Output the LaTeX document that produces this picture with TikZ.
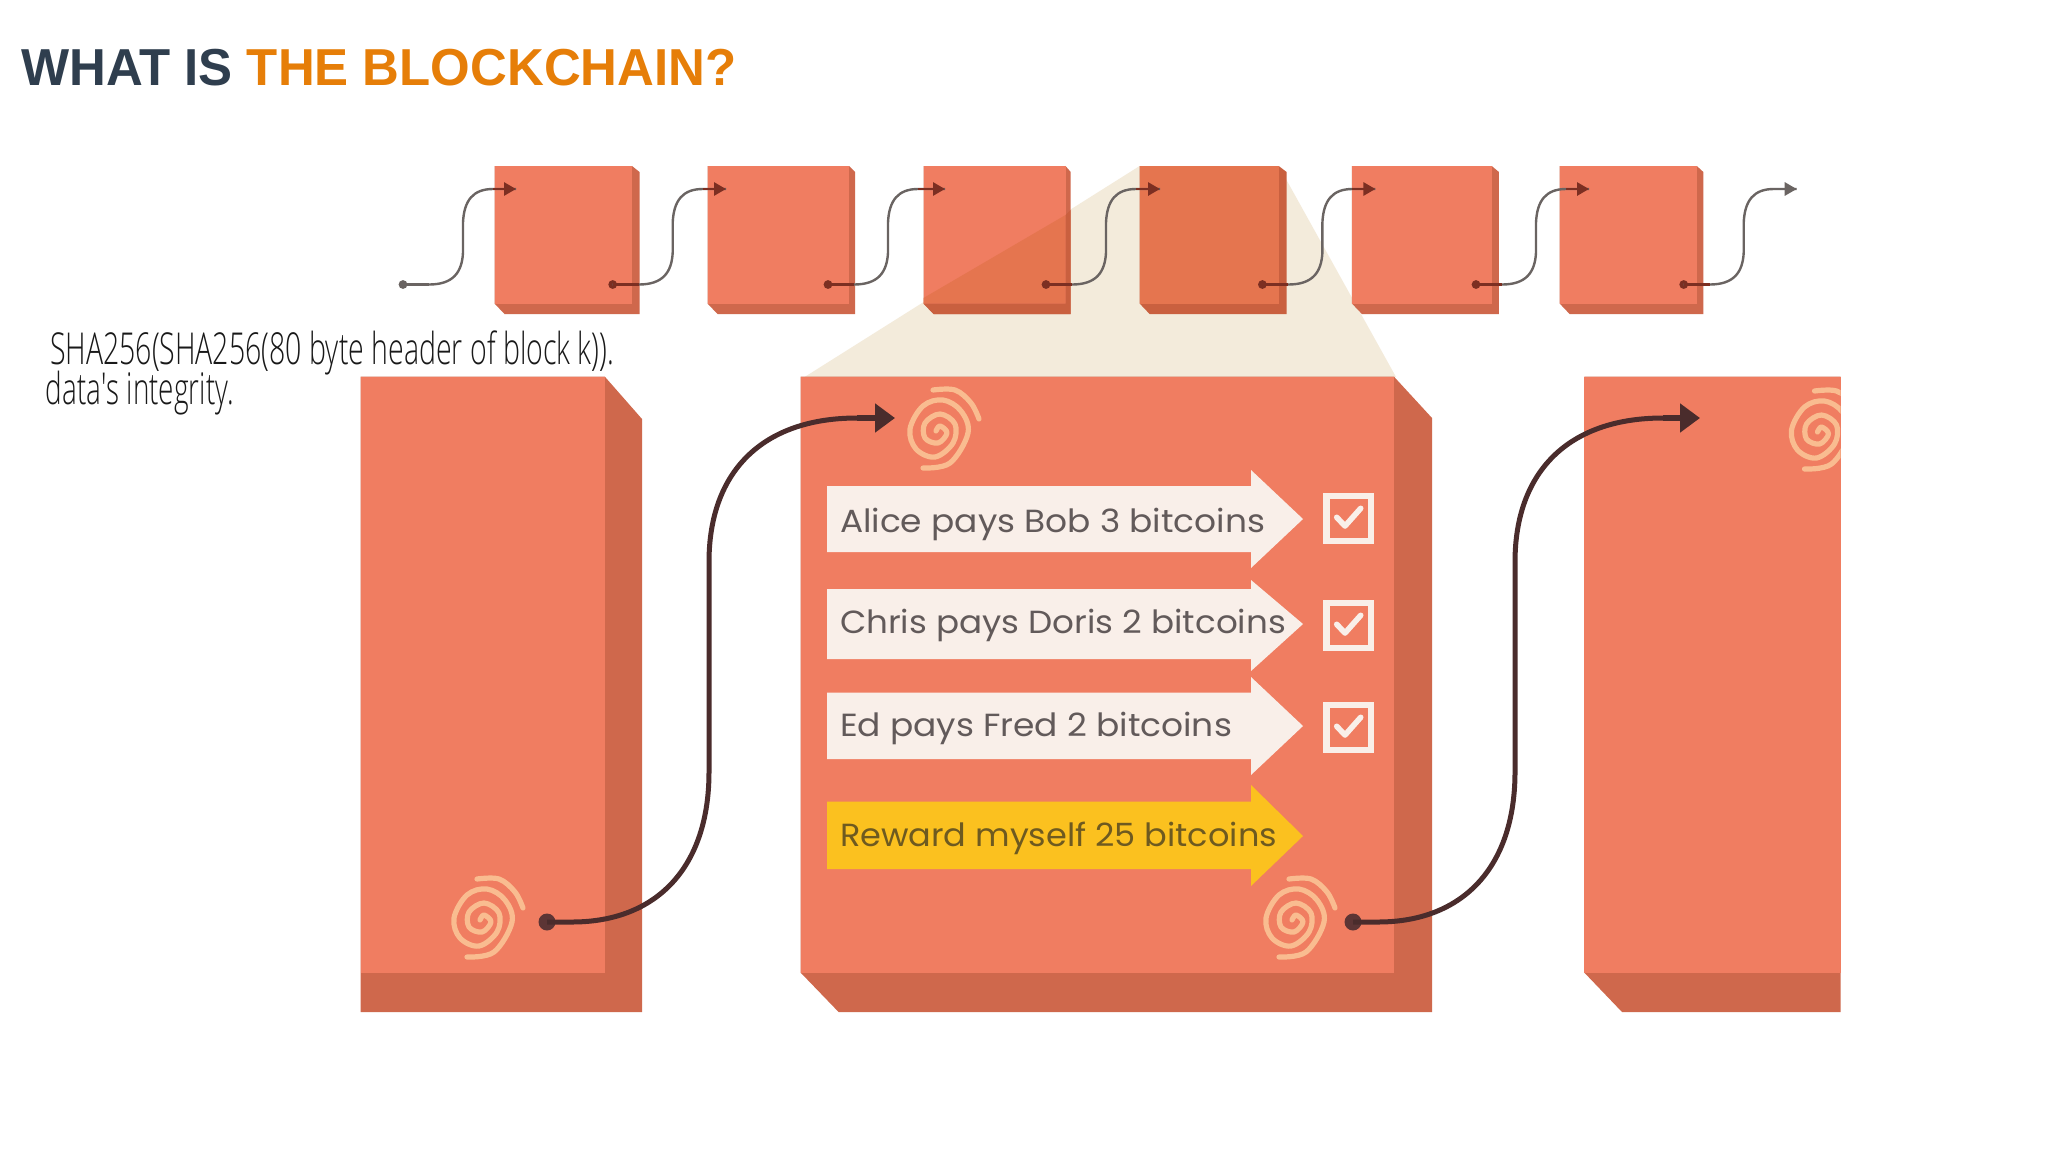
\documentclass[tikz,border=0pt]{standalone}
\usepackage{fontspec}
\usepackage{graphicx}
\usetikzlibrary{arrows.meta,calc}
\setmainfont{Liberation Sans}
\newfontfamily\pop{Poppins}
\newfontfamily\shafont{Open Sans Light}
\definecolor{front}{HTML}{F07D61}
\definecolor{sidec}{HTML}{CF684C}
\definecolor{frontd}{HTML}{E5754F}
\definecolor{sided}{HTML}{C9603F}
\definecolor{cream}{HTML}{F3EBDB}
\definecolor{paper}{HTML}{F9EFE9}
\definecolor{gold}{HTML}{FBC11F}
\definecolor{print}{HTML}{F9BC90}
\definecolor{inkdark}{HTML}{4A2C2C}
\definecolor{inkdot}{HTML}{5C3535}
\definecolor{linkgrey}{HTML}{6A6462}
\definecolor{linkred}{HTML}{7C2F22}
\definecolor{titledark}{HTML}{2F3E4E}
\definecolor{titleorange}{HTML}{E67E08}
\definecolor{txtgrey}{HTML}{625A5A}
\definecolor{txtolive}{HTML}{6E5A20}
\newdimen\pxu \pxu=.5pt
\newcommand{\fitx}[2]{\resizebox{#1\pxu}{\height}{#2}}
\tikzset{
  x=.5pt,y=-.5pt,
  txt/.style={anchor=base west,inner sep=0pt,outer sep=0pt},
  bigdot/.style={circle,fill=inkdot,inner sep=0pt,minimum size=8.5pt},
  smalldot/.style={circle,inner sep=0pt,minimum size=4.4pt},
  bigline/.style={draw=inkdark,line width=2.5pt},
  linkline/.style={draw=linkgrey,line width=1.2pt},
  printline/.style={draw=print,line width=2.6pt,line cap=round,line join=round},
}
\newcommand{\topblock}[5]{%
  \fill[#5] (#1,166) -- (#2,166) -- (#3,172) -- (#3,314) -- ({#1+10},314) -- (#1,303.5) -- cycle;
  \fill[#4] (#1,166) rectangle (#2,303.5);
}
\newcommand{\fingerprint}[1]{%
  \begin{scope}[shift={(#1)}]
    \draw[printline] plot[smooth,tension=.6] coordinates {(-16,37) (11,32) (29,2) (22,-20) (4,-31) (-16,-25) (-29,-2) (-23,18) (-4,26) (14,12) (16,-7) (1,-17) (-14,-8) (-14,7) (-1,12) (8,2) (1,-5) (-3,0)};
    \draw[printline] plot[smooth,tension=.6] coordinates {(-6,-41) (16,-41) (32,-28) (40,-12)};
  \end{scope}}
\newcommand{\checkmarkbox}[1]{%
  \begin{scope}[shift={(#1)}]
    \draw[paper,line width=3.2pt] (3.2,3.2) rectangle (47.8,47.8);
    \draw[paper,line width=2.8pt,line cap=round,line join=round] (13.4,24.3) -- (21.7,33) -- (37.4,15.3);
  \end{scope}}
\newcommand{\txarrow}[6]{%
  \fill[#1] (827,#2) -- (1251,#2) -- (1251,#4) -- (1303,#6) -- (1251,#5) -- (1251,#3) -- (827,#3) -- cycle;
}
\newcommand{\chainlink}[5]{%
  \node[smalldot,fill=#4] (s#1) at (#2,284.5) {};
  \coordinate (t#1) at (#3,189);
  \draw[linkline] (s#1.center) -- ($(s#1)+(26,0)$) .. controls ($(s#1)+(50,0)$) and ($(s#1)+(59,-12)$) .. ($(s#1)+(60,-32)$) -- ($(s#1)+(60,-62)$) .. controls ($(s#1)+(61,-84)$) and ($(s#1)+(70,-95.5)$) .. ($(s#1)+(90,-95.5)$) -- (t#1);
  \draw[draw=#4,line width=1.4pt] (s#1.center) -- ($(s#1)+(26,0)$);
  \draw[draw=#5,line width=1.4pt,-{Triangle[length=6pt,width=6.5pt]}] ($(s#1)+(90,-95.5)$) -- (t#1);
}
\newcommand{\biglink}[3]{%
  \node[bigdot] (d#1) at (#2,922) {};
  \coordinate (e#1) at (#3,418);
  \draw[bigline] (d#1.center) -- ($(d#1)+(25,0)$) .. controls ($(d#1)+(110,0)$) and ($(d#1)+(162,-55)$) .. ($(d#1)+(162,-150)$) -- ($(d#1)+(162,-360)$) .. controls ($(d#1)+(162,-450)$) and ($(d#1)+(215,-504)$) .. ($(d#1)+(310,-504)$) -- ($(e#1)+(-10,0)$);
  \draw[draw=inkdark,line width=2.8pt,-{Triangle[length=10pt,width=14pt]}] ($(d#1)+(310,-504)$) -- (e#1);
}
\begin{document}
\begin{tikzpicture}
\useasboundingbox (0,0) rectangle (2048,1152);
\fill[white] (0,0) rectangle (2048,1152);

\node[txt] (title) at (21.5,85.3) {\fitx{715}{\fontsize{26pt}{30pt}\selectfont\bfseries\textcolor{titledark}{WHAT IS }\textcolor{titleorange}{THE BLOCKCHAIN?}}};

\fill[cream] (803,378) -- (1139.6,166) -- (1278.7,166) -- (1396,377) -- cycle;

\topblock{494.5}{632}{639.5}{front}{sidec}
\topblock{707.5}{849}{855}{front}{sidec}
\topblock{923.5}{1065.5}{1070.7}{front}{sidec}
\topblock{1139.6}{1278.7}{1286.6}{frontd}{sided}
\topblock{1351.9}{1491.7}{1498.9}{front}{sidec}
\topblock{1559.6}{1696.8}{1703.3}{front}{sidec}
\fill[frontd] (923.5,298) -- (1065.5,215) -- (1065.5,303.5) -- (923.5,303.5) -- cycle;
\fill[sided] (1065.5,215) -- (1070.7,210) -- (1070.7,314) -- (933.5,314) -- (923.5,303.5) -- (1065.5,303.5) -- cycle;

\chainlink{1}{403}{516}{linkgrey}{linkred}
\chainlink{2}{612.7}{726}{linkred}{linkred}
\chainlink{3}{828}{945}{linkred}{linkred}
\chainlink{4}{1046}{1160}{linkred}{linkred}
\chainlink{5}{1262.4}{1375.4}{linkred}{linkred}
\chainlink{6}{1476}{1589}{linkred}{linkred}
\chainlink{7}{1683.7}{1796.7}{linkred}{linkgrey}

\node[txt] (sha) at (50,364.4) {\fitx{564}{\shafont\fontsize{22pt}{26pt}\selectfont\textcolor{black!90}{SHA256(SHA256(80 byte header of block k)).}}};
\node[txt] (integrity) at (45.7,404) {\fitx{188}{\shafont\fontsize{22pt}{26pt}\selectfont\textcolor{black!90}{data\textquotesingle s integrity.}}};

\fill[sidec] (360.5,376.5) -- (604.7,376.5) -- (642,419) -- (642,1012) -- (360.5,1012) -- cycle;
\fill[front] (360.5,376.5) rectangle (604.7,972.7);
\fill[sidec] (800.7,376.7) -- (1394,376.7) -- (1432,418) -- (1432,1012) -- (838.6,1012) -- (800.7,972.7) -- cycle;
\fill[front] (800.7,376.7) rectangle (1394,972.7);
\fill[sidec] (1584.4,376.5) -- (1840.5,376.5) -- (1840.5,1012) -- (1622,1012) -- (1584.4,972.7) -- cycle;
\fill[front] (1584.4,376.5) rectangle (1840.5,972.7);

\fingerprint{483,920}
\fingerprint{939,431}
\fingerprint{1295,920}
\begin{scope}
  \clip (1584.4,376.5) rectangle (1840.5,972.7);
  \fingerprint{1820.5,432}
\end{scope}

\txarrow{paper}{486}{552}{470}{568}{519}
\txarrow{paper}{589}{659}{580}{671}{624}
\txarrow{paper}{692.7}{759}{677}{775}{726}
\txarrow{gold}{801.7}{869}{785}{886}{836}
\node[txt] (alice) at (840,532.7) {\fitx{425}{\pop\fontsize{16pt}{20pt}\selectfont\textcolor{txtgrey}{Alice pays Bob 3 bitcoins}}};
\node[txt] (chris) at (840,633) {\fitx{446}{\pop\fontsize{16pt}{20pt}\selectfont\textcolor{txtgrey}{Chris pays Doris 2 bitcoins}}};
\node[txt] (ed) at (840,736.7) {\fitx{392}{\pop\fontsize{16pt}{20pt}\selectfont\textcolor{txtgrey}{Ed pays Fred 2 bitcoins}}};
\node[txt] (reward) at (840,846.7) {\fitx{437}{\pop\fontsize{16pt}{20pt}\selectfont\textcolor{txtolive}{Reward myself 25 bitcoins}}};

\checkmarkbox{1323.3,493}
\checkmarkbox{1323.3,600}
\checkmarkbox{1323.3,702}

\biglink{1}{547}{895}
\biglink{2}{1353}{1700}
\end{tikzpicture}
\end{document}
